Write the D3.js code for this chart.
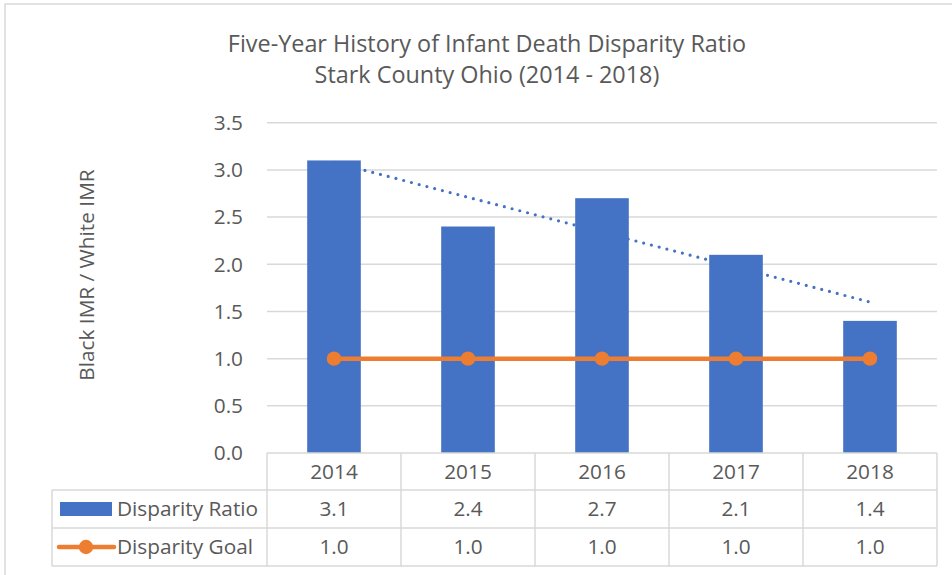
<!DOCTYPE html>
<html><head><meta charset="utf-8">
<script src="https://cdn.jsdelivr.net/npm/d3@7"></script>
<style>
html,body{margin:0;padding:0;background:#fff;}
svg text{font-family:"Open Sans",Lato,sans-serif;fill:#595959;}
</style></head>
<body>
<svg id="c" width="952" height="575"></svg>
<script>
const years = ["2014","2015","2016","2017","2018"];
const ratioValues = [3.1, 2.4, 2.7, 2.1, 1.4];
const goalValues = [1.0, 1.0, 1.0, 1.0, 1.0];
const yTicks = [0, 0.5, 1.0, 1.5, 2.0, 2.5, 3.0, 3.5];
const seriesNames = ["Disparity Ratio", "Disparity Goal"];
const titleLines = ["Five-Year History of Infant Death Disparity Ratio", "Stark County Ohio (2014 - 2018)"];
const yLabel = "Black IMR / White IMR";

const blue = "#4472C4", orange = "#ED7D31", grid = "#d9d9d9";
const svg = d3.select("#c");
const fs = 20.8;

// chart border
svg.append("rect").attr("x",5).attr("y",4).attr("width",1000).attr("height",700)
  .attr("fill","none").attr("stroke",grid).attr("stroke-width",1.5);

const pLeft = 267, pRight = 937, pTop = 122.7, pBottom = 453;
const x = d3.scaleBand().domain(years).range([pLeft, pRight]).padding(0);
const y = d3.scaleLinear().domain([0, 3.5]).range([pBottom, pTop]);

// title
svg.append("text").attr("x",487).attr("y",52).attr("text-anchor","middle").attr("font-size",23.4).text(titleLines[0]);
svg.append("text").attr("x",487).attr("y",83).attr("text-anchor","middle").attr("font-size",23.4).text(titleLines[1]);

// y axis label
svg.append("text").attr("transform","translate(94,275) rotate(-90)").attr("text-anchor","middle")
  .attr("font-size",fs).text(yLabel);

// gridlines
svg.append("g").selectAll("line").data(yTicks.filter(d=>d>0)).join("line")
  .attr("x1",pLeft).attr("x2",pRight).attr("y1",d=>y(d)).attr("y2",d=>y(d))
  .attr("stroke",grid).attr("stroke-width",1.5);

// y tick labels
svg.append("g").selectAll("text").data(yTicks).join("text")
  .attr("x",243).attr("y",d=>y(d)).attr("dy","0.35em").attr("text-anchor","end")
  .attr("font-size",fs).text(d=>d3.format(".1f")(d));

// bars
const bw = x.bandwidth()*0.4;
svg.append("g").selectAll("rect").data(ratioValues).join("rect")
  .attr("x",(d,i)=>x(years[i])+x.bandwidth()/2-bw/2).attr("width",bw)
  .attr("y",d=>y(d)).attr("height",d=>pBottom-y(d)).attr("fill",blue);

// linear trendline from regression of bar values
const n = ratioValues.length;
const xs = d3.range(1,n+1);
const mx = d3.mean(xs), my = d3.mean(ratioValues);
const slope = d3.sum(xs.map((v,i)=>(v-mx)*(ratioValues[i]-my)))/d3.sum(xs.map(v=>(v-mx)*(v-mx)));
const icpt = my - slope*mx;
const cx = i => x(years[i]) + x.bandwidth()/2;
svg.append("line")
  .attr("x1",cx(0)).attr("y1",y(icpt+slope*1))
  .attr("x2",cx(n-1)).attr("y2",y(icpt+slope*n))
  .attr("stroke",blue).attr("stroke-width",3.2).attr("stroke-linecap","round")
  .attr("stroke-dasharray","0,8");

// goal line
const line = d3.line().x((d,i)=>cx(i)).y(d=>y(d));
svg.append("path").datum(goalValues).attr("d",line).attr("fill","none")
  .attr("stroke",orange).attr("stroke-width",4.5);
svg.append("g").selectAll("circle").data(goalValues).join("circle")
  .attr("cx",(d,i)=>cx(i)).attr("cy",d=>y(d)).attr("r",7.2).attr("fill",orange);

// data table
const tLeft = 52, rows = [453, 490, 528, 566];
const tg = svg.append("g").attr("stroke",grid).attr("stroke-width",1.5);
tg.append("line").attr("x1",pLeft).attr("x2",pRight).attr("y1",rows[0]).attr("y2",rows[0]);
rows.slice(1).forEach(r=>tg.append("line").attr("x1",tLeft).attr("x2",pRight).attr("y1",r).attr("y2",r));
tg.append("line").attr("x1",tLeft).attr("x2",tLeft).attr("y1",rows[1]).attr("y2",rows[3]);
years.concat(["end"]).forEach((yr,i)=>{
  const xv = i<years.length ? x(yr) : pRight;
  tg.append("line").attr("x1",xv).attr("x2",xv).attr("y1",rows[0]).attr("y2",rows[3]);
});

const midRow = k => (rows[k]+rows[k+1])/2;
svg.append("g").selectAll("text").data(years).join("text")
  .attr("x",d=>x(d)+x.bandwidth()/2).attr("y",midRow(0)).attr("dy","0.35em")
  .attr("text-anchor","middle").attr("font-size",fs).text(d=>d);
[ratioValues, goalValues].forEach((vals,k)=>{
  svg.append("g").selectAll("text").data(vals).join("text")
    .attr("x",(d,i)=>cx(i)).attr("y",midRow(k+1)).attr("dy","0.35em")
    .attr("text-anchor","middle").attr("font-size",fs).text(d=>d3.format(".1f")(d));
  svg.append("text").attr("x",117).attr("y",midRow(k+1)).attr("dy","0.35em")
    .attr("font-size",fs).text(seriesNames[k]);
});
// legend keys
svg.append("rect").attr("x",60).attr("y",502).attr("width",52).attr("height",14).attr("fill",blue);
svg.append("line").attr("x1",59).attr("x2",114).attr("y1",midRow(2)).attr("y2",midRow(2))
  .attr("stroke",orange).attr("stroke-width",4.5).attr("stroke-linecap","round");
svg.append("circle").attr("cx",86).attr("cy",midRow(2)).attr("r",7.2).attr("fill",orange);
</script>
</body></html>
